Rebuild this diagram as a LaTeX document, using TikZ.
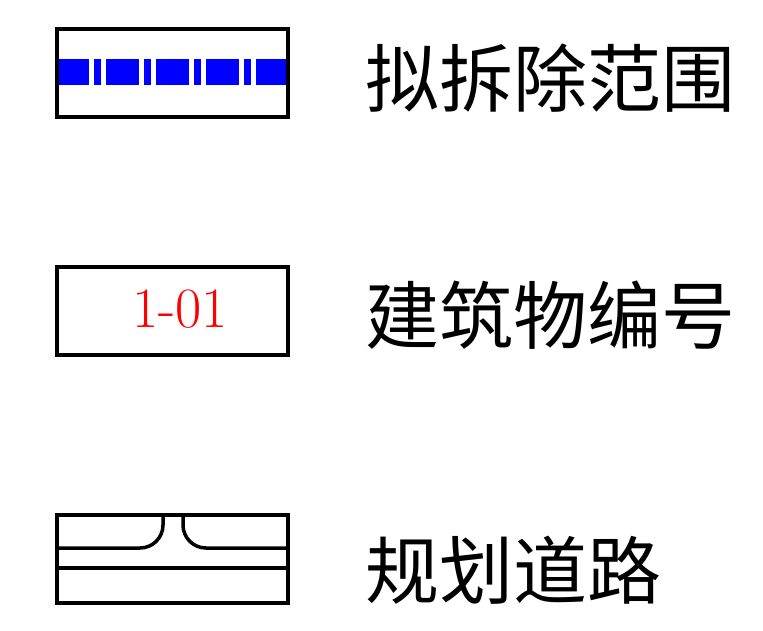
\documentclass[tikz,border=0pt]{standalone}
\usepackage{fontspec}
\newfontfamily\cjk{Noto Sans CJK SC}

\begin{document}
\begin{tikzpicture}[%
        x = 1pt,
        y = -1pt,
        line width = 3pt,
        legendbox/.style = {%
            draw = black,
            line width = 3.2pt,
            minimum width = 231pt,
            minimum height = 88pt,
            inner sep = 0pt
        },
        legendtext/.style = {%
            anchor = west,
            inner sep = 0pt,
            font = \cjk\fontsize{74}{80}\selectfont
        },
        demolishline/.style = {%
            draw = blue,
            line width = 26pt,
            dash pattern = on 33pt off 5pt on 7pt off 5pt,
            dash phase = 1pt
        },
        roadline/.style = {%
            draw = black,
            line width = 3.5pt
        }
    ]

        % Fix the page to the size of the reference.
        \useasboundingbox (0, 0) rectangle (763, 630);

        % Legend symbol for the area to be demolished.
        \coordinate (bandstart) at (57, 72);
        \coordinate (bandend) at (288, 72);
        \draw[demolishline] (bandstart) -- (bandend);
        \node[legendbox] (demolish) at (172.5, 73) {};

        % Legend symbol for the building number.
        \node[legendbox] (number) at (172.5, 311) {};
        \node[%
            text = red,
            inner sep = 0pt,
            font = \fontsize{57}{62}\selectfont
        ] (numbertext) at (180, 309) {1-01};

        % Legend symbol for the planned road, with a side road joining it.
        \node[legendbox] (road) at (172.5, 559) {};
        \draw[roadline] (57, 548) -- (140, 548)
            arc[start angle = 90, end angle = 0, radius = 23] -- (163, 515);
        \draw[roadline] (183, 515) -- (183, 525)
            arc[start angle = 180, end angle = 90, radius = 23] -- (288, 548);
        \draw[roadline] (57, 568) -- (288, 568);

        % Label the legend entries.
        \node[legendtext] (demolishlabel) at (364, 78) {拟拆除范围};
        \node[legendtext] (numberlabel) at (364, 315) {建筑物编号};
        \node[legendtext] (roadlabel) at (364, 570) {规划道路};
    \end{tikzpicture}
\end{document}
